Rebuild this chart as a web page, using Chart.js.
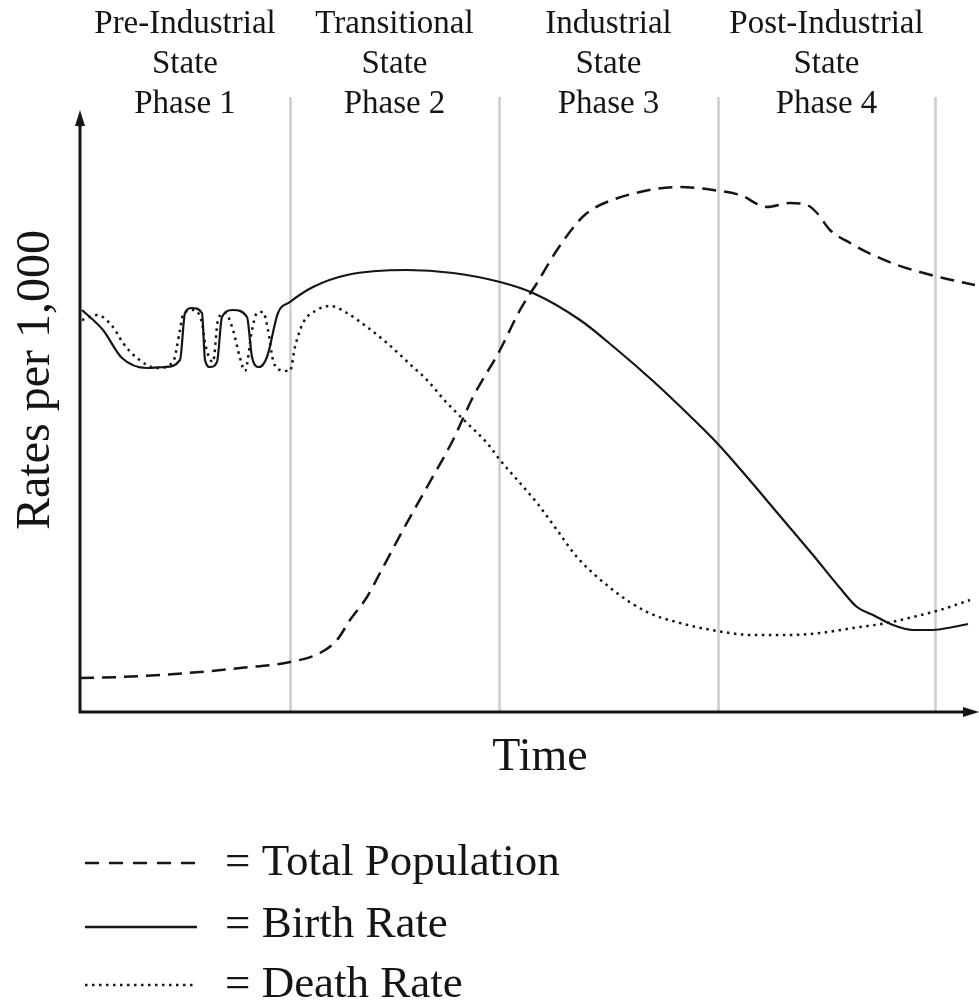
<!DOCTYPE html>
<html>
<head>
<meta charset="utf-8">
<title>Demographic Transition</title>
<script src="https://cdn.jsdelivr.net/npm/chart.js@4.4.1/dist/chart.umd.min.js"></script>
<style>
  html, body { margin: 0; padding: 0; background: #fff; }
  canvas { display: block; }
</style>
</head>
<body>
<canvas id="chart" width="979" height="1000"></canvas>
<script>
// Time runs 0..895 along the x axis, rates 0..60 up the y axis
const phaseEdges = [210, 419, 638, 855];
const phaseLabels = [
    ["Pre-Industrial", "State", "Phase 1"],
    ["Transitional", "State", "Phase 2"],
    ["Industrial", "State", "Phase 3"],
    ["Post-Industrial", "State", "Phase 4"]
];

const birthTime = [2, 23, 42, 67, 85, 100, 105, 112, 122, 125, 130, 137, 142, 153, 167, 172, 179, 187, 198,
    210, 233, 267, 327, 373, 420, 453, 500, 535, 573, 610, 637, 667, 700, 733, 760, 777, 793, 813, 833, 853, 873, 888];
const birthRate = [40.2, 38.2, 35.4, 34.4, 34.5, 35.2, 39.9, 40.4, 39.9, 35.2, 34.5, 35.0, 39.5, 40.2, 39.5, 35.5, 34.5, 35.5, 39.9,
    41.0, 42.5, 43.7, 44.2, 43.9, 43.0, 41.9, 39.2, 36.4, 33.1, 29.6, 26.9, 23.5, 19.6, 15.7, 12.4, 10.5, 9.7, 8.7, 8.2, 8.2, 8.5, 8.8];

const deathTime = [2, 17, 33, 43, 57, 77, 93, 100, 103, 113, 122, 125, 133, 138, 145, 153, 160, 165, 172, 177, 183, 188, 193, 200,
    210, 215, 223, 237, 250, 267, 287, 307, 333, 347, 367, 387, 407, 420, 440, 457, 477, 497, 533, 567, 600, 637, 673, 707,
    740, 773, 807, 833, 860, 890];
const deathRate = [39.2, 39.7, 38.5, 36.9, 35.4, 34.4, 35.0, 38.2, 39.7, 40.2, 38.9, 36.9, 35.0, 39.2, 39.9, 38.2, 35.4, 34.1, 38.2, 39.9, 40.0, 38.2, 35.2, 34.2,
    34.1, 36.5, 38.9, 40.2, 40.6, 39.9, 38.5, 36.9, 34.5, 33.2, 30.9, 28.9, 26.9, 25.2, 22.9, 20.9, 18.2, 15.5, 12.2, 10.0, 8.9, 8.1, 7.7, 7.7,
    7.9, 8.4, 8.9, 9.5, 10.2, 11.2];

const popTime = [0, 40, 80, 120, 160, 210, 240, 257, 270, 287, 300, 323, 347, 373, 393, 420, 440, 457, 477, 497, 507,
    520, 560, 600, 633, 660, 687, 710, 727, 737, 750, 770, 793, 817, 840, 863, 895];
const popLevel = [3.4, 3.5, 3.7, 4.0, 4.4, 5.0, 5.9, 7.2, 9.2, 11.5, 13.9, 18.2, 22.5, 27.2, 31.5, 36.2, 40.2, 42.9, 46.2, 48.9, 49.9,
    50.7, 52.0, 52.5, 52.2, 51.7, 50.5, 50.9, 50.7, 49.9, 48.2, 46.9, 45.7, 44.7, 44.0, 43.4, 42.7];

const ink = "#151515";
const serif = "'Liberation Serif', 'DejaVu Serif', serif";

function toPoints(xs, ys) {
    return xs.map((x, i) => ({ x: x, y: ys[i] }));
}

// gray phase separators, drawn under the curves
const phasePlugin = {
    id: "phases",
    beforeDatasetsDraw(chart) {
        const ctx = chart.ctx;
        const xs = chart.scales.x;
        const bottom = chart.chartArea.bottom;
        ctx.save();
        ctx.strokeStyle = "#cccccc";
        ctx.lineWidth = 2.5;
        phaseEdges.forEach(v => {
            const px = Math.round(xs.getPixelForValue(v)) + 0.5;
            ctx.beginPath();
            ctx.moveTo(px, 97);
            ctx.lineTo(px, bottom);
            ctx.stroke();
        });
        ctx.restore();
    },
    afterDraw(chart) {
        const ctx = chart.ctx;
        const xs = chart.scales.x;
        const area = chart.chartArea;
        ctx.save();

        // axes with arrow heads
        ctx.strokeStyle = ink;
        ctx.fillStyle = ink;
        ctx.lineWidth = 3;
        ctx.beginPath();
        ctx.moveTo(area.left, 122);
        ctx.lineTo(area.left, area.bottom);
        ctx.lineTo(area.right - 6, area.bottom);
        ctx.stroke();
        ctx.beginPath();
        ctx.moveTo(area.left, 110);
        ctx.lineTo(area.left - 5, 126);
        ctx.lineTo(area.left + 5, 126);
        ctx.closePath();
        ctx.fill();
        ctx.beginPath();
        ctx.moveTo(979, area.bottom);
        ctx.lineTo(963, area.bottom - 5);
        ctx.lineTo(963, area.bottom + 5);
        ctx.closePath();
        ctx.fill();

        // phase headings, centred in each phase
        const edges = [xs.min].concat(phaseEdges);
        ctx.font = "33px " + serif;
        ctx.textAlign = "center";
        ctx.textBaseline = "alphabetic";
        phaseLabels.forEach((lines, i) => {
            const cx = (xs.getPixelForValue(edges[i]) + xs.getPixelForValue(edges[i + 1])) / 2;
            lines.forEach((t, j) => ctx.fillText(t, cx, 33 + j * 40));
        });

        // axis titles
        ctx.font = "46px " + serif;
        ctx.fillText("Time", 540, 770);
        ctx.save();
        ctx.translate(49, 380);
        ctx.rotate(-Math.PI / 2);
        ctx.font = "48px " + serif;
        ctx.fillText("Rates per 1,000", 0, 0);
        ctx.restore();

        // key below the chart
        const rows = [
            { y: 863, dash: [14, 10], label: "= Total Population", base: 875 },
            { y: 927, dash: [], label: "= Birth Rate", base: 937 },
            { y: 985, dash: [2.5, 4.5], label: "= Death Rate", base: 997 }
        ];
        ctx.font = "45px " + serif;
        ctx.textAlign = "left";
        rows.forEach(r => {
            ctx.beginPath();
            ctx.setLineDash(r.dash);
            ctx.lineWidth = 2.5;
            ctx.moveTo(85, r.y);
            ctx.lineTo(197, r.y);
            ctx.stroke();
            ctx.setLineDash([]);
            ctx.fillText(r.label, 225, r.base);
        });
        ctx.restore();
    }
};

new Chart(document.getElementById("chart"), {
    type: "line",
    data: {
        datasets: [
            {
                label: "Total Population",
                data: toPoints(popTime, popLevel),
                borderColor: ink,
                borderWidth: 2.5,
                borderDash: [14, 8],
                cubicInterpolationMode: "monotone",
                pointRadius: 0
            },
            {
                label: "Birth Rate",
                data: toPoints(birthTime, birthRate),
                borderColor: ink,
                borderWidth: 2.2,
                cubicInterpolationMode: "monotone",
                pointRadius: 0
            },
            {
                label: "Death Rate",
                data: toPoints(deathTime, deathRate),
                borderColor: ink,
                borderWidth: 2.5,
                borderDash: [2.5, 4.5],
                cubicInterpolationMode: "monotone",
                pointRadius: 0
            }
        ]
    },
    options: {
        responsive: false,
        animation: false,
        layout: { padding: { left: 80, right: 4, top: 112, bottom: 288 } },
        scales: {
            x: { type: "linear", min: 0, max: 895, display: false },
            y: { type: "linear", min: 0, max: 60, display: false }
        },
        plugins: {
            legend: { display: false },
            tooltip: { enabled: false }
        }
    },
    plugins: [phasePlugin]
});
</script>
</body>
</html>
